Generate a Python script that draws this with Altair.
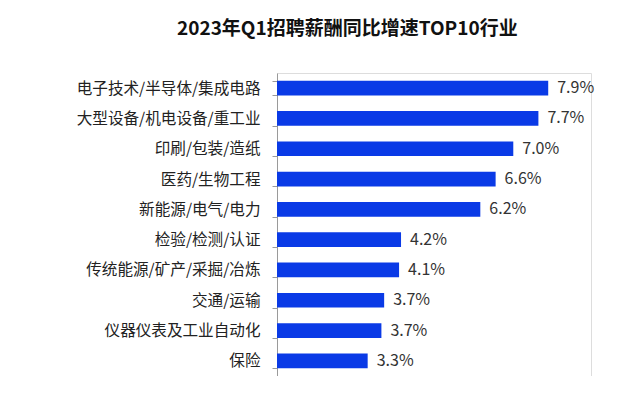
import altair as alt
import pandas as pd

categories = [
    "电子技术/半导体/集成电路",
    "大型设备/机电设备/重工业",
    "印刷/包装/造纸",
    "医药/生物工程",
    "新能源/电气/电力",
    "检验/检测/认证",
    "传统能源/矿产/采掘/冶炼",
    "交通/运输",
    "仪器仪表及工业自动化",
    "保险",
]
values = [7.91, 7.66, 7.02, 6.57, 6.18, 4.16, 4.11, 3.73, 3.66, 3.31]
value_labels = ["7.9%", "7.7%", "7.0%", "6.6%", "6.2%", "4.2%", "4.1%", "3.7%", "3.7%", "3.3%"]

df = pd.DataFrame({"industry": categories, "value": values, "label": value_labels})

FONT = "Noto Sans CJK SC"
BLUE = "#0a3ae6"

y_enc = alt.Y(
    "industry:N",
    sort=categories,
    scale=alt.Scale(paddingInner=0.515, paddingOuter=0.2575),
    axis=alt.Axis(
        title=None,
        domainColor="#9a9a9a",
        tickColor="#9a9a9a",
        tickSize=5,
        tickBand="extent",
        labelPadding=12,
        labelFontSize=15.6,
        labelColor="#222222",
        labelFont=FONT,
        labelLimit=300,
        minExtent=269,
        maxExtent=269,
    ),
)
x_scale = alt.Scale(domain=[1, 9], nice=False, zero=False)

base = alt.Chart(df)

bars = base.mark_bar(color=BLUE).encode(
    y=y_enc,
    x=alt.X("value:Q", scale=x_scale, axis=None),
    x2=alt.datum(1),
)

texts = base.mark_text(
    align="left", baseline="middle", dx=9, fontSize=16, color="#333333", font=FONT
).encode(
    y=alt.Y("industry:N", sort=categories),
    x=alt.X("value:Q", scale=x_scale, axis=None),
    text="label:N",
)

chart = (
    alt.layer(bars, texts)
    .properties(
        width=314,
        height=303,
        padding={"left": 0, "top": 12, "right": 0, "bottom": 0},
        title=alt.TitleParams(
            "2023年Q1招聘薪酬同比增速TOP10行业",
            anchor="start",
            frame="group",
            dx=-100,
            fontSize=19,
            fontWeight="bold",
            font=FONT,
            color="#111111",
            offset=27,
        ),
    )
    .configure_view(stroke=None)
    .configure(font=FONT)
)

chart.save("out.html", embed_options={"renderer": "svg", "actions": False})
